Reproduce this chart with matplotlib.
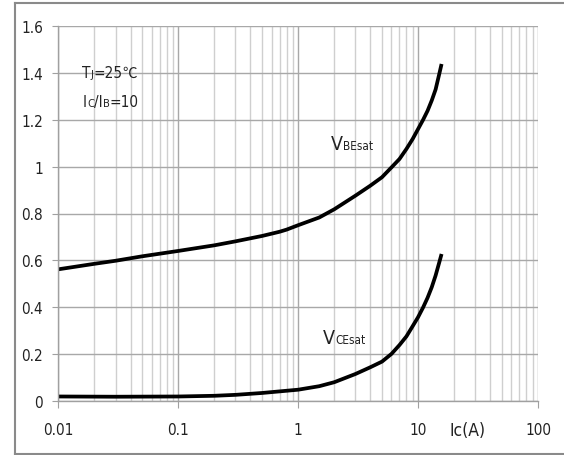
import matplotlib.pyplot as plt
import numpy as np
from matplotlib.lines import Line2D
from matplotlib import font_manager

# data (Ic in A, voltage in V)
ic_be = [0.01, 0.02, 0.03, 0.05, 0.1, 0.2, 0.3, 0.5, 0.7, 0.8, 1, 1.5, 2, 3, 4, 5,
         6, 7, 8, 9, 10, 11, 12, 13, 14, 15, 15.7]
vbe = [0.5615, 0.585, 0.598, 0.617, 0.640, 0.664, 0.681, 0.704, 0.722, 0.731, 0.750,
       0.783, 0.818, 0.876, 0.919, 0.955, 0.997, 1.033, 1.076, 1.118, 1.161, 1.2,
       1.239, 1.283, 1.33, 1.395, 1.439]

ic_ce = [0.01, 0.03, 0.1, 0.2, 0.3, 0.5, 1, 1.5, 2, 3, 4, 5, 6, 7, 8, 9, 10, 11,
         12, 13, 14, 15, 15.7]
vce = [0.018, 0.017, 0.018, 0.021, 0.025, 0.033, 0.047, 0.062, 0.079, 0.114, 0.143,
       0.167, 0.2, 0.238, 0.275, 0.318, 0.357, 0.398, 0.440, 0.485, 0.535, 0.59, 0.627]

xticks = [0.01, 0.1, 1, 10, 100]
xlabels = ['0.01', '0.1', '1', '10', '100']
yticks = [0, 0.2, 0.4, 0.6, 0.8, 1.0, 1.2, 1.4, 1.6]
ylabels = ['0', '0.2', '0.4', '0.6', '0.8', '1', '1.2', '1.4', '1.6']

# narrow font if there is one
names = {f.name for f in font_manager.fontManager.ttflist}
if 'Liberation Sans Narrow' in names:
    plt.rcParams['font.family'] = ['Liberation Sans Narrow', 'DejaVu Sans']
else:
    plt.rcParams['font.family'] = ['DejaVu Sans']
    plt.rcParams['font.stretch'] = 'condensed'

txt = '#222222'

fig = plt.figure(figsize=(5.64, 4.56), dpi=100)
ax = fig.add_axes([58.3/564, 1 - 401.7/456, (538 - 58.3)/564, (401.7 - 27.3)/456])

ax.set_xscale('log')
ax.set_xlim(0.01, 100)
ax.set_ylim(0, 1.6)

ax.set_xticks(xticks)
ax.set_xticklabels(xlabels)
ax.set_yticks(yticks)
ax.set_yticklabels(ylabels)
ax.xaxis.set_minor_locator(plt.LogLocator(base=10, subs=np.arange(2, 10)))
ax.xaxis.set_minor_formatter(plt.NullFormatter())

ax.grid(True, which='major', color='#a8a8a8', lw=1.0)
ax.grid(True, which='minor', axis='x', color='#cfcfcf', lw=1.0)
ax.set_axisbelow(True)

for s in ['top', 'right']:
    ax.spines[s].set_visible(False)
for s in ['left', 'bottom']:
    ax.spines[s].set_color('#a0a0a0')
    ax.spines[s].set_linewidth(1.0)

ax.tick_params(axis='x', which='major', direction='out', length=5, color='#a0a0a0',
               labelsize=11, pad=10, labelcolor=txt)
ax.tick_params(axis='x', which='minor', length=0)
ax.tick_params(axis='y', direction='out', length=4, color='#a0a0a0',
               labelsize=11, pad=7, labelcolor=txt)

ax.plot(ic_be, vbe, color='black', lw=2.7, solid_capstyle='butt')
ax.plot(ic_ce, vce, color='black', lw=2.7, solid_capstyle='butt')

renderer = fig.canvas.get_renderer()

def chain(px, py, parts):
    # parts sit one after another on the same baseline (pixel coords from top-left)
    x = px / 564
    y = 1 - py / 456
    for s, size, fam in parts:
        kw = {}
        if fam:
            kw['family'] = fam
        t = fig.text(x, y, s, fontsize=size, va='baseline', ha='left', color=txt, **kw)
        bb = t.get_window_extent(renderer)
        x = fig.transFigure.inverted().transform((bb.x1, 0))[0]

cjk = ['Noto Sans CJK SC', 'DejaVu Sans']
chain(82, 78, [('T', 11, None), ('J', 8, None), ('=25', 11, None), ('\u2103', 10.5, cjk)])
chain(83, 107, [('I', 11, None), ('C', 8, None), ('/I', 11, None), ('B', 8, None), ('=10', 11, None)])
chain(331, 150, [('V', 14, None), ('BEsat', 8.5, None)])
chain(323, 344, [('V', 14, None), ('CEsat', 8.5, None)])

fig.text(468/564, 1 - 436/456, 'Ic(A)', fontsize=12.5, ha='center', va='baseline', color=txt)

# outer frame
frame = dict(color='#8a8a8a', lw=1.5, transform=fig.transFigure)
fig.add_artist(Line2D([15/564, 15/564], [1 - 4/456, 1 - 455/456], **frame))
fig.add_artist(Line2D([15/564, 1], [1 - 4/456, 1 - 4/456], **frame))
fig.add_artist(Line2D([15/564, 1], [1 - 455/456, 1 - 455/456], **frame))

fig.savefig('out.png', dpi=100)
